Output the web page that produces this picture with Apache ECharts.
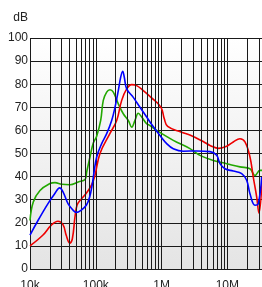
<!DOCTYPE html>
<html>
<head>
<meta charset="utf-8">
<script src="https://cdn.jsdelivr.net/npm/echarts@6/dist/echarts.min.js"></script>
<style>
  html, body { margin: 0; padding: 0; background: #fff; }
  #chart { width: 262px; height: 287px; }
</style>
</head>
<body>
<div id="chart"></div>
<script>
// frequency (Hz), level (dB)
var redData = [
  [10000, 10], [15760, 14.7], [21080, 19], [26640, 20.7], [31730, 19.2],
  [35620, 14.5], [40110, 11.2], [43950, 13], [48000, 22], [50530, 26.3],
  [53630, 28.5], [71700, 32.8], [85440, 36.2], [96230, 40], [115800, 50],
  [164400, 58.7], [207800, 64.3], [247500, 73], [294900, 78], [351300, 79.8],
  [418400, 79.4], [527100, 77.2], [690200, 74.3], [979300, 70], [1099000, 65],
  [1238000, 61.7], [1972000, 59.3], [2797000, 57.8], [4410000, 55], [5440000, 53.5],
  [7420000, 52.2], [9760000, 53.1], [12290000, 55], [15540000, 56.4], [18510000, 55],
  [22050000, 48.5], [24750000, 39.8], [27880000, 31.2], [30200000, 24.2], [33600000, 38]
];
var greenData = [
  [10000, 21], [11220, 29], [14190, 34], [20140, 37], [23990, 37.4],
  [30320, 36.7], [40550, 36.5], [54200, 37.7], [68550, 38.7], [72710, 42],
  [81600, 48.5], [91620, 54.5], [103200, 57.5], [118700, 64.3], [130000, 73],
  [146400, 76.6], [164400, 77.6], [184500, 76.6], [219800, 71.5], [261800, 67.2],
  [311900, 64.3], [351300, 61.4], [394200, 64.3], [442400, 67.4], [498300, 65.8],
  [593600, 62.9], [666300, 62.1], [842300, 60], [1506000, 55.7], [2702000, 52.1],
  [3834000, 49.2], [6110000, 47], [9760000, 45.6], [15540000, 44.2], [22050000, 43.4],
  [26270000, 40.5], [31300000, 42.7], [33600000, 42.7]
];
var blueData = [
  [10000, 14.7], [13230, 21], [18770, 28.3], [23730, 32.6], [28280, 35.1],
  [31730, 33.4], [37800, 28.3], [45030, 25.5], [50530, 24.5], [60210, 25.5],
  [71700, 27.6], [80770, 31.2], [87560, 36], [93000, 41], [103200, 48.5],
  [122900, 54.3], [146400, 58.6], [174400, 64.3], [195800, 70], [219800, 77.2],
  [238900, 83], [256400, 85.6], [271100, 83], [294900, 78], [371500, 74.3],
  [469600, 70], [593600, 65.8], [690000, 63], [945600, 57.8], [1196000, 54.3],
  [1506000, 52.1], [2137000, 51], [3415000, 51.1], [5440000, 50.8], [6880000, 49.2],
  [7720000, 45.6], [9190000, 43.4], [12290000, 42.4], [16500000, 41.3], [19650000, 38.4],
  [22050000, 32.6], [26270000, 27.6], [29480000, 28.3], [33200000, 39.8]
];

var decades = [10000, 100000, 1000000, 10000000];
var decadeLabels = ['10k', '100k', '1M', '10M'];
var gridSteps = [2, 3, 4, 5, 6, 7, 8, 9];

var xMin = 10000;
var xMax = 33600000;

// vertical lines at 2..9 of every decade
var minorLines = [];
decades.forEach(function (d) {
  gridSteps.forEach(function (s) {
    if (d * s <= xMax) {
      minorLines.push({ xAxis: d * s });
    }
  });
});

var gridColor = '#1a1a1a';

var myChart = echarts.init(document.getElementById('chart'));

var option = {
  animation: false,
  grid: {
    left: 30,
    right: 0,
    top: 38,
    bottom: 18,
    outerBoundsMode: 'none',
    containLabel: false,
    show: true,
    borderWidth: 0,
    backgroundColor: new echarts.graphic.LinearGradient(0, 0, 0, 1, [
      { offset: 0, color: '#ffffff' },
      { offset: 1, color: '#e4e4e4' }
    ])
  },
  xAxis: {
    type: 'log',
    logBase: 10,
    min: xMin,
    max: xMax,
    axisLine: { show: false },
    axisTick: { show: false },
    splitLine: { show: true, lineStyle: { color: gridColor, width: 1 } },
    axisLabel: {
      margin: 11,
      fontFamily: 'Liberation Sans, Arial, sans-serif',
      fontSize: 12,
      color: '#222',
      showMaxLabel: false,
      formatter: function (v) {
        var e = Math.log(v) / Math.LN10;
        for (var i = 0; i < decades.length; i++) {
          if (Math.abs(e - Math.log(decades[i]) / Math.LN10) < 1e-6) {
            return decadeLabels[i];
          }
        }
        return '';
      }
    }
  },
  yAxis: {
    type: 'value',
    min: 0,
    max: 100,
    interval: 10,
    name: 'dB',
    nameLocation: 'end',
    nameGap: 14,
    nameTextStyle: {
      fontFamily: 'Liberation Sans, Arial, sans-serif',
      fontSize: 12,
      color: '#222',
      align: 'right',
      padding: [0, 2, 0, 0]
    },
    axisLine: { show: false },
    axisTick: { show: false },
    splitLine: { show: true, lineStyle: { color: gridColor, width: 1 } },
    axisLabel: {
      margin: 2,
      fontFamily: 'Liberation Sans, Arial, sans-serif',
      fontSize: 12,
      color: '#222'
    }
  },
  series: [
    {
      type: 'line',
      data: [],
      z: 1,
      silent: true,
      markLine: {
        silent: true,
        symbol: ['none', 'none'],
        label: { show: false },
        lineStyle: { color: gridColor, width: 1, type: 'solid' },
        emphasis: { disabled: true },
        data: minorLines
      }
    },
    {
      type: 'line',
      data: greenData,
      z: 3,
      smooth: 0.4,
      showSymbol: false,
      lineStyle: { color: '#22a800', width: 1.6 }
    },
    {
      type: 'line',
      data: redData,
      z: 4,
      smooth: 0.4,
      showSymbol: false,
      lineStyle: { color: '#ee0000', width: 1.6 }
    },
    {
      type: 'line',
      data: blueData,
      z: 5,
      smooth: 0.4,
      showSymbol: false,
      lineStyle: { color: '#0000ff', width: 1.6 }
    }
  ]
};

myChart.setOption(option);
</script>
</body>
</html>
